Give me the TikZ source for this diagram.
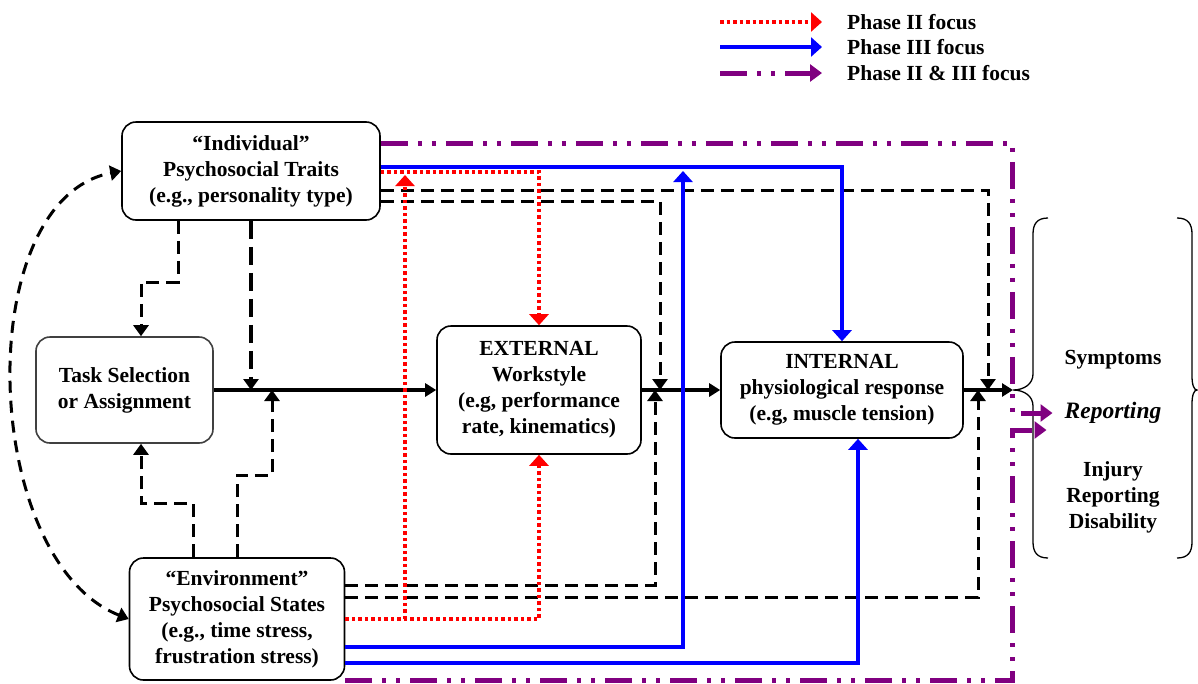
\documentclass[tikz,border=0pt]{standalone}
\usepackage{fontspec}
\setmainfont{Liberation Serif}
\usetikzlibrary{arrows.meta, positioning}

\definecolor{phasered}{RGB}{255,0,0}
\definecolor{phaseblue}{RGB}{0,0,255}
\definecolor{phasepurple}{RGB}{128,0,128}

\begin{document}
\begin{tikzpicture}[
  x=1pt, y=-1pt,
  box/.style={rectangle, rounded corners=14pt, draw=black, line width=1.6pt, fill=white,
              align=center, inner sep=0pt, font=\bfseries\fontsize{21.5}{26}\selectfont},
  txt/.style={inner sep=0pt, align=center, font=\bfseries\fontsize{21.5}{26}\selectfont},
  flow/.style={line width=4pt, -{Triangle[length=11pt,width=13pt]}},
  link/.style={line width=3pt, dash pattern=on 13pt off 7pt, -{Triangle[length=11pt,width=15pt]}},
  phasetwo/.style={phasered, line width=4.5pt, dash pattern=on 3.5pt off 3pt,
                   -{Triangle[length=11pt,width=19pt]}},
  phasethree/.style={phaseblue, line width=4pt, -{Triangle[length=11pt,width=19pt]}},
  phaseboth/.style={phasepurple, line width=5pt,
                    dash pattern=on 27pt off 10pt on 4pt off 10pt on 4pt off 10pt,
                    -{Triangle[length=12pt,width=17pt]}}
]
\useasboundingbox (0,0) rectangle (1198,683);

% legend
\node[txt, anchor=west] (lg1) at (847,22) {Phase II focus};
\node[txt, anchor=west] (lg2) at (847,47) {Phase III focus};
\node[txt, anchor=west] (lg3) at (847,73) {Phase II \& III focus};
\draw[phasetwo]   ([xshift=-127pt]lg1.west) -- ([xshift=-25pt]lg1.west);
\draw[phasethree] ([xshift=-127pt]lg2.west) -- ([xshift=-25pt]lg2.west);
\draw[phaseboth]  ([xshift=-127pt]lg3.west) -- ([xshift=-25pt]lg3.west);

% boxes
\node[box, minimum width=258pt, minimum height=98pt]  (ind)  at (251,171)
  {``Individual''\\Psychosocial Traits\\(e.g., personality type)};
\node[box, minimum width=177pt, minimum height=106pt, draw=black!75] (task) at (124.5,390)
  {Task Selection\\or Assignment};
\node[box, minimum width=204pt, minimum height=128pt] (ext)  at (539,390)
  {EXTERNAL\\Workstyle\\(e.g, performance\\rate, kinematics)};
\node[box, minimum width=242pt, minimum height=96pt]  (int)  at (842,390)
  {INTERNAL\\physiological response\\(e.g, muscle tension)};
\node[box, minimum width=215pt, minimum height=122pt] (env)  at (237,619)
  {``Environment''\\Psychosocial States\\(e.g., time stress,\\frustration stress)};

% outcomes
\node[txt] (sym) at (1113,360) {Symptoms};
\node[txt, font=\bfseries\itshape\fontsize{23.5}{26}\selectfont] (rep) at (1113,413) {Reporting};
\node[txt] (inj) at (1113,497) {Injury\\Reporting\\Disability};
\coordinate (bracetip) at (1013,390);
\coordinate (redtip) at (405,175);
\draw[line width=1.3pt] (1048,218) .. controls (1037,218) and (1033,224) .. (1033,234)
  -- (1033,374) .. controls (1033,384) and (1024,390) .. (bracetip)
  .. controls (1024,390) and (1033,396) .. (1033,406)
  -- (1033,542) .. controls (1033,552) and (1037,558) .. (1048,558);
\draw[line width=1.3pt] (1177,218) .. controls (1188,218) and (1192,224) .. (1192,234)
  -- (1192,376) .. controls (1192,385) and (1194,390) .. (1197,390)
  .. controls (1194,390) and (1192,395) .. (1192,404)
  -- (1192,542) .. controls (1192,552) and (1188,558) .. (1177,558);

% main flow
\draw[flow] (task.east) -- (ext.west);
\draw[flow] (ext.east) -- (int.west);
\draw[flow] (int.east) -- (bracetip);

% dashed influences
\draw[link] (ind.east |- 0,190) -| (int.east -| 988,0);
\draw[link] (ind.east |- 0,201) -| (ext.east -| 660,0);
\draw[link] (ind.south -| 178,0) |- (141,282) -- (task.north -| 141,0);
\draw[link, line width=3.5pt, dash pattern=on 18pt off 8pt] (ind.south) -- (ind.south |- task.east);
\draw[link] (env.north -| 193,0) |- (141,503) -- (task.south -| 141,0);
\draw[link] (env.north) |- (272,475) -- (task.east -| 272,0);
\draw[link] (env.east |- 0,585) -| (ext.east -| 655,0);
\draw[link] (env.east |- 0,597) -| (int.east -| 978,0);
\draw[link, line width=3pt, dash pattern=on 12pt off 8pt,
      {Triangle[length=11pt,width=15pt]}-{Triangle[length=11pt,width=15pt]}]
  (env.west) .. controls (-20,560) and (-30,200) .. (ind.west);

% phase II
\draw[phasetwo] (ind.east |- 0,172) -| (ext.north);
\draw[phasetwo] (env.east) -| (ext.south);
\draw[phasetwo] (env.east -| redtip) -- (redtip);

% phase III
\draw[phasethree] (ind.east |- 0,167) -| (int.north);
\draw[phasethree] (env.east |- 0,647) -| (ind.east -| 683,0);
\draw[phasethree] (env.east |- 0,663) -| ([xshift=16pt]int.south);

% phase II & III
\draw[phaseboth] (ind.east |- 0,143) -| (1012,413) -- ([xshift=-12pt]rep.west);
\draw[phaseboth] (env.south east) -| (1012,430) -- ([xshift=-18pt,yshift=-17pt]rep.west);
\end{tikzpicture}
\end{document}
